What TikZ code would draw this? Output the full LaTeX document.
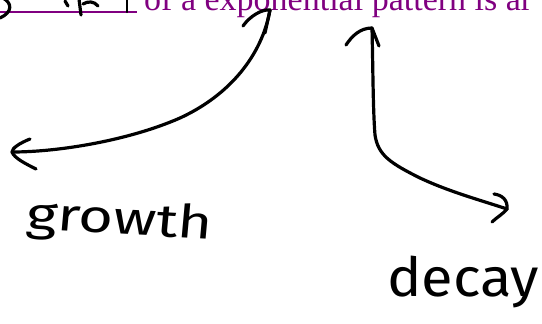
\documentclass[tikz,border=0pt]{standalone}
\usepackage{fontspec}
\setmainfont{Liberation Serif}
\newfontfamily\handfont{Fira Sans}
\definecolor{inkpurple}{HTML}{800080}
\tikzset{
  ink/.style={line width=3.2pt, line cap=round, line join=round, black},
  handtext/.style={font=\handfont, inner sep=0pt, text=black},
}
\begin{document}
\begin{tikzpicture}[x=1pt, y=-1pt]
\useasboundingbox (0,0) rectangle (542,324);
\clip (0,0) rectangle (542,324);
% top line of text (cut off)
\node[anchor=base west, inner sep=0pt, text=inkpurple, font=\fontsize{34}{35}\selectfont] (topline) at (144,11) {of a exponential pattern is ar};
\coordinate (ulstart) at (0,12);
\coordinate (ulend) at (137,12);
\draw[inkpurple, line width=1.2pt] (ulstart) -- (ulend);
% fragments of handwriting at top left
\draw[ink] (3,-2) .. controls (12,3) and (13,12) .. (0,18);
\draw[ink] (79,-1) -- (81,15);
\draw[ink] (65,1) -- (68,6);
\draw[ink] (83,4) .. controls (88,1) and (94,1) .. (98,6);
\draw[ink, line width=2.4pt] (127,-1) -- (127,12);
% growth curve
\coordinate (gL) at (12,152);
\coordinate (gM) at (180,118);
\coordinate (gT) at (270,10);
\draw[ink] (gL) .. controls (60,152) and (130,140) .. (gM)
           .. controls (230,95) and (262,55) .. (gT);
\draw[ink] (30,139) .. controls (20,143) and (12,148) .. (gL)
           .. controls (14,158) and (26,164) .. (36,169);
\draw[ink] (243,26) .. controls (250,16) and (262,9) .. (gT) -- (265,33);
% decay curve
\coordinate (dT) at (372,28);
\coordinate (dA) at (375,135);
\coordinate (dB) at (420,178);
\coordinate (dR) at (507,209);
\draw[ink] (dT) .. controls (373,70) and (373,110) .. (dA)
           .. controls (378,155) and (390,163) .. (dB)
           .. controls (450,192) and (480,200) .. (dR);
\draw[ink] (346,45) .. controls (352,36) and (360,28) .. (dT) -- (379,46);
\draw[ink] (494,194) .. controls (502,195) and (508,200) .. (dR)
           .. controls (503,214) and (496,218) .. (492,222);
% handwritten labels
\node[handtext, anchor=base west, xscale=1.3, rotate=-4, font=\handfont\fontsize{46}{48}\selectfont] (growth) at (25,229) {growth};
\node[handtext, anchor=base west, xscale=1.07, font=\handfont\fontsize{54}{56}\selectfont] (decay) at (387,296) {decay};
\end{tikzpicture}
\end{document}
